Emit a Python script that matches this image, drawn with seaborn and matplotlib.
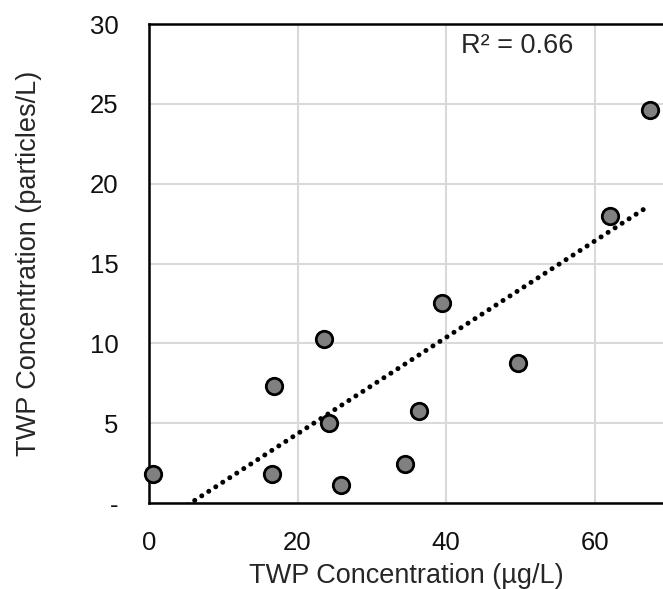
import numpy as np
import pandas as pd
import seaborn as sns
import matplotlib.pyplot as plt

# TWP concentration
mass_ugL = [0.5, 16.6, 16.8, 23.6, 24.3, 25.8, 34.5, 36.3, 39.5, 49.7, 62.0, 67.4]
particles_L = [1.8, 1.8, 7.3, 10.3, 5.0, 1.15, 2.45, 5.75, 12.5, 8.8, 18.0, 24.6]

df = pd.DataFrame({'mass': mass_ugL, 'particles': particles_L})

# linear trend + R²
slope, intercept = np.polyfit(df['mass'], df['particles'], 1)
r2 = np.corrcoef(df['mass'], df['particles'])[0, 1] ** 2
xfit = np.linspace(df['mass'].min(), df['mass'].max(), 100)
trend = pd.DataFrame({'mass': xfit, 'particles': slope * xfit + intercept})

sns.set_style('whitegrid')
plt.rcParams['font.family'] = ['Liberation Sans', 'DejaVu Sans']

fig = plt.figure(figsize=(6.63, 5.89), dpi=100)
ax = fig.add_axes([0.2247, 0.146, 0.7753, 0.813])

sns.lineplot(data=trend, x='mass', y='particles', ax=ax, color='black',
             linewidth=3.6, linestyle=(0, (0.01, 1.66)), dash_capstyle='round', zorder=2)
sns.scatterplot(data=df, x='mass', y='particles', ax=ax, s=140, color='#808080',
                edgecolor='black', linewidth=2.0, zorder=3, clip_on=False)

ax.set_xlim(0, 69.2)
ax.set_ylim(0, 30)
ax.set_xticks([0, 20, 40, 60])
ax.set_yticks([0, 5, 10, 15, 20, 25, 30])
ax.set_yticklabels(['-', '5', '10', '15', '20', '25', '30'])
ax.grid(True, color='#d9d9d9', linewidth=1.5)
ax.set_axisbelow(True)

for side in ['left', 'top', 'bottom']:
    ax.spines[side].set_color('black')
    ax.spines[side].set_linewidth(1.8)
ax.spines['right'].set_visible(False)

ax.tick_params(axis='both', labelsize=18.5, colors='#111111', length=0)
ax.tick_params(axis='y', pad=22)
ax.tick_params(axis='x', pad=20)
ax.set_xlabel('TWP Concentration (µg/L)', fontsize=19.5, labelpad=6)
ax.set_ylabel('TWP Concentration (particles/L)', fontsize=19.5, labelpad=34)

ax.text(42.0, 28.6, f'R² = {r2:.2f}', fontsize=19.5, va='center', ha='left')

fig.savefig('out.png', dpi=100)
